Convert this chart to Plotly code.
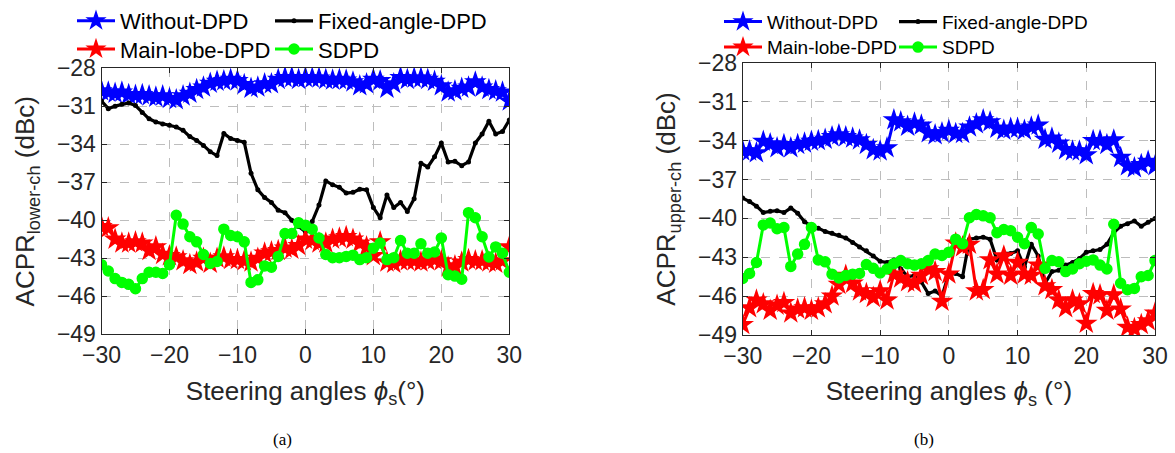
import plotly.graph_objects as go

angles = list(range(-30, 31))

# (a) lower channel
a_without = [-29.8, -29.9, -30.0, -29.9, -30.1, -30.15, -30.1, -30.2, -30.3, -30.2, -30.4, -30.5, -30.2, -30.0, -29.7, -29.5,
             -29.2, -29.05, -29.0, -28.9, -29.0, -29.3, -29.6, -29.5, -29.25, -29.25, -28.9, -28.75, -28.75, -28.9, -28.75,
             -28.8, -28.8, -28.9, -28.95, -28.9, -28.95, -29.1, -29.4, -29.25, -28.9, -29.0, -29.6, -29.25, -28.75, -28.9,
             -28.8, -28.8, -28.9, -29.05, -29.4, -29.9, -29.8, -29.6, -29.5, -29.1, -29.5, -29.7, -29.8, -29.9, -30.6]
a_fixed = [-30.6, -31.2, -31.0, -30.85, -30.75, -30.95, -31.5, -32.0, -32.25, -32.4, -32.5, -32.65, -32.9, -33.4, -33.7, -34.1,
           -34.6, -34.9, -33.15, -33.55, -33.7, -33.85, -36.3, -37.6, -38.2, -38.6, -39.2, -39.4, -40.0, -40.5, -40.9,
           -40.1, -38.8, -36.9, -37.2, -37.4, -37.85, -37.8, -37.55, -37.6, -39.0, -39.8, -38.0, -39.0, -38.6, -39.3,
           -38.3, -35.5, -35.8, -35.0, -33.9, -35.4, -35.35, -35.7, -35.4, -33.9, -33.2, -32.2, -33.2, -33.0, -32.1]
a_main = [-40.5, -40.6, -41.5, -41.8, -41.8, -41.7, -41.8, -42.4, -42.1, -42.7, -42.8, -42.9, -43.2, -43.5, -43.3, -43.0,
          -43.4, -43.0, -42.9, -43.1, -43.1, -43.2, -43.3, -43.0, -42.6, -42.5, -42.4, -42.2, -42.3, -42.0, -41.5,
          -41.6, -41.8, -41.8, -41.5, -41.4, -41.3, -41.5, -41.8, -42.1, -42.8, -41.7, -43.3, -43.4, -43.2, -43.2,
          -43.2, -43.3, -43.2, -43.1, -43.2, -43.7, -43.6, -43.3, -43.1, -43.2, -43.2, -43.3, -43.4, -43.2, -42.1]
a_sdpd = [-43.5, -44.0, -44.6, -44.9, -45.05, -45.4, -44.6, -44.1, -44.1, -44.2, -43.5, -39.6, -40.3, -41.3, -41.7, -42.7,
          -43.4, -43.25, -40.7, -41.2, -41.3, -41.7, -44.9, -44.7, -43.6, -43.7, -42.85, -41.05, -41.05, -40.2, -40.4,
          -40.7, -41.4, -42.7, -42.95, -42.95, -42.85, -42.75, -43.1, -42.95, -42.2, -41.8, -43.1, -42.95, -41.6, -42.6,
          -42.6, -41.85, -42.6, -42.5, -41.4, -44.3, -44.4, -44.65, -39.4, -39.8, -41.3, -42.9, -42.1, -42.6, -44.1]

# (b) upper channel
b_without = [-34.8, -34.8, -34.95, -34.05, -34.25, -34.55, -34.3, -34.55, -34.3, -34.2, -34.05, -34.0, -33.9, -33.7, -33.55,
             -33.7, -33.8, -33.95, -34.3, -34.7, -34.8, -34.55, -32.4, -32.55, -32.9, -32.65, -32.8, -33.4, -33.55, -33.4,
             -33.2, -33.45, -33.45, -32.95, -32.7, -32.4, -32.55, -33.05, -33.2, -33.05, -33.05, -33.2, -32.95, -32.8,
             -33.9, -33.8, -34.2, -34.7, -34.8, -34.8, -35.1, -34.0, -34.0, -34.3, -33.95, -35.3, -35.95, -36.1, -35.85,
             -35.6, -35.95]
b_fixed = [-38.43, -38.7, -39.05, -39.55, -39.45, -39.4, -39.55, -39.2, -39.6, -40.25, -40.6, -40.75, -41.0, -41.15, -41.3,
           -41.5, -41.85, -42.2, -42.5, -42.9, -43.3, -43.4, -43.2, -43.9, -44.5, -44.4, -44.9, -45.8, -45.6, -46.0,
           -44.25, -44.25, -44.5, -41.6, -41.5, -41.45, -41.6, -43.2, -42.7, -42.7, -42.5, -43.75, -42.0, -42.9, -45.0,
           -44.1, -44.0, -43.6, -43.4, -43.1, -42.6, -42.5, -42.4, -42.0, -41.1, -40.6, -40.4, -40.2, -40.6, -40.3, -40.0]
b_main = [-48.2, -46.9, -46.3, -46.6, -47.1, -46.7, -46.5, -47.3, -47.0, -46.9, -47.1, -46.9, -46.6, -46.0, -45.1, -44.4,
          -45.0, -45.6, -45.8, -46.1, -45.6, -46.3, -44.3, -44.6, -44.9, -45.0, -44.4, -43.9, -44.1, -46.4, -44.3,
          -41.9, -42.2, -42.0, -45.6, -45.5, -43.2, -44.3, -42.9, -44.4, -43.4, -44.3, -44.4, -43.6, -45.2, -45.5,
          -46.3, -46.9, -46.3, -46.6, -48.1, -45.8, -45.9, -47.1, -45.9, -47.0, -48.4, -48.5, -48.2, -47.9, -47.3]
b_sdpd = [-44.63, -44.25, -43.4, -40.5, -40.35, -40.8, -40.7, -43.7, -42.75, -42.0, -40.7, -43.2, -43.35, -44.3, -44.6,
          -44.4, -44.3, -44.25, -43.55, -43.85, -44.2, -43.9, -43.5, -43.25, -43.5, -43.6, -43.5, -43.25, -42.75, -42.85,
          -42.6, -41.6, -41.95, -39.95, -39.7, -39.8, -39.95, -41.1, -40.85, -40.95, -41.45, -41.95, -40.7, -41.2, -43.85,
          -43.25, -43.35, -44.1, -43.9, -43.5, -43.3, -43.2, -43.6, -43.9, -40.45, -45.0, -45.5, -45.4, -44.5, -44.4, -43.25]

y_ticks = [-49, -46, -43, -40, -37, -34, -31, -28]
x_ticks = [-30, -20, -10, 0, 10, 20, 30]

FONT = "Liberation Sans"
TXT = "#262626"

styles = {
    "Without-DPD": dict(color="#0000ff", symbol="star", size=17, lw=3),
    "Fixed-angle-DPD": dict(color="#000000", symbol="circle", size=5, lw=3.2),
    "Main-lobe-DPD": dict(color="#ff0000", symbol="star", size=17, lw=3),
    "SDPD": dict(color="#00ff00", symbol="circle", size=10, lw=3),
}

W, H = 1175, 453
fig = go.Figure()

def add(series, name, xa, ya, legend):
    s = styles[name]
    fig.add_trace(go.Scatter(
        x=angles, y=series, name=name, mode="lines+markers",
        xaxis=xa, yaxis=ya, legend=legend,
        line=dict(color=s["color"], width=s["lw"]),
        marker=dict(symbol=s["symbol"], size=s["size"], color=s["color"],
                    line=dict(color=s["color"], width=1.5 if name == "SDPD" else 0)),
    ))

add(a_without, "Without-DPD", "x", "y", "legend")
add(a_fixed, "Fixed-angle-DPD", "x", "y", "legend2")
add(a_main, "Main-lobe-DPD", "x", "y", "legend3")
add(a_sdpd, "SDPD", "x", "y", "legend4")
add(b_without, "Without-DPD", "x2", "y2", "legend5")
add(b_fixed, "Fixed-angle-DPD", "x2", "y2", "legend6")
add(b_main, "Main-lobe-DPD", "x2", "y2", "legend7")
add(b_sdpd, "SDPD", "x2", "y2", "legend8")

def xaxis(dom, anchor, title):
    return dict(domain=dom, anchor=anchor, range=[-30, 30], tickvals=x_ticks, automargin=False,
                showline=True, linecolor="#262626", linewidth=1, mirror="allticks",
                ticks="inside", ticklen=5, tickcolor="#262626",
                showgrid=True, gridcolor="#bdbdbd", griddash="dash", gridwidth=1,
                zeroline=False, tickfont=dict(family=FONT, size=23, color=TXT),
                title=dict(text=title, font=dict(family=FONT, size=26, color=TXT), standoff=14))

def yaxis(dom, anchor, title):
    return dict(domain=dom, anchor=anchor, range=[-49, -28], tickvals=y_ticks, automargin=False,
                showline=True, linecolor="#262626", linewidth=1, mirror="allticks",
                ticks="inside", ticklen=5, tickcolor="#262626",
                showgrid=True, gridcolor="#bdbdbd", griddash="dash", gridwidth=1,
                zeroline=False, tickfont=dict(family=FONT, size=23, color=TXT),
                title=dict(text=title, font=dict(family=FONT, size=26, color=TXT), standoff=14))

lx1 = [101.5 / W, 509.3 / W]
ly1 = [1 - 332.0 / H, 1 - 60.3 / H]
lx2 = [742.7 / W, 1155.0 / W]
ly2 = [1 - 332.7 / H, 1 - 55.0 / H]

def legend(x, y, size):
    return dict(x=x / W, y=1 - y / H, xanchor="left", yanchor="middle", orientation="v",
                itemwidth=38, bgcolor="rgba(0,0,0,0)",
                font=dict(family=FONT, size=size, color="#000000"),
                tracegroupgap=0, itemclick=False)

fig.update_layout(
    width=W, height=H, margin=dict(l=0, r=0, t=0, b=0),
    paper_bgcolor="white", plot_bgcolor="white",
    showlegend=True,
    xaxis=xaxis(lx1, "y", "Steering angles <i>ϕ</i><sub>s</sub>(°)"),
    yaxis=yaxis(ly1, "x", "ACPR<sub>lower-ch</sub> (dBc)"),
    xaxis2=xaxis(lx2, "y2", "Steering angles <i>ϕ</i><sub>s</sub> (°)"),
    yaxis2=yaxis(ly2, "x2", "ACPR<sub>upper-ch</sub> (dBc)"),
    legend=legend(72, 12, 22),
    legend2=legend(270, 12, 22),
    legend3=legend(72, 41, 22),
    legend4=legend(270, 41, 22),
    legend5=legend(719, 13, 19),
    legend6=legend(894, 13, 19),
    legend7=legend(719, 39, 19),
    legend8=legend(894, 39, 19),
    annotations=[
        dict(text="(a)", x=282 / W, y=1 - 439 / H, xref="paper", yref="paper", showarrow=False,
             xanchor="center", yanchor="middle",
             font=dict(family="Liberation Serif", size=17, color="#000000")),
        dict(text="(b)", x=924 / W, y=1 - 439 / H, xref="paper", yref="paper", showarrow=False,
             xanchor="center", yanchor="middle",
             font=dict(family="Liberation Serif", size=17, color="#000000")),
    ],
)

fig.write_html("out.html")
